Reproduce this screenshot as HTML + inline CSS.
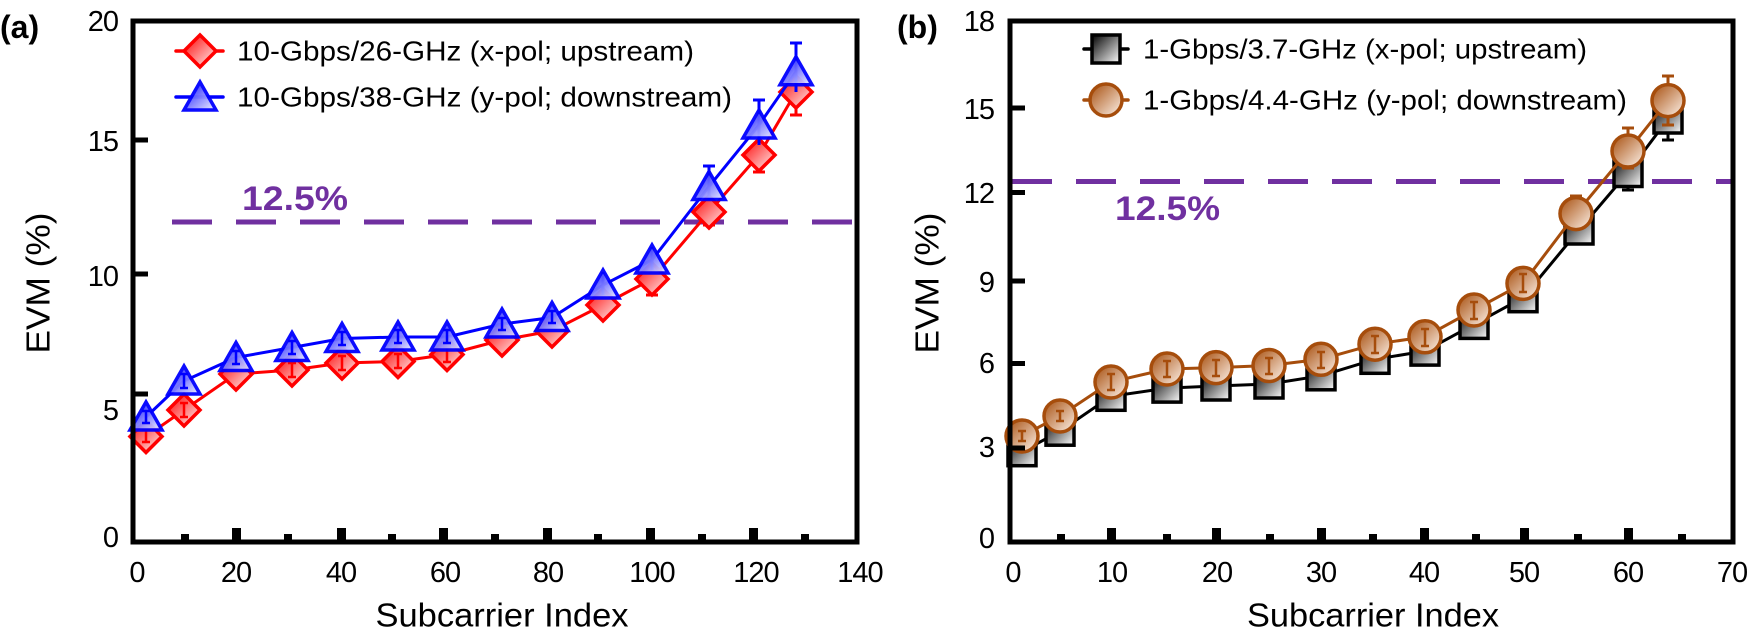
<!DOCTYPE html>
<html><head><meta charset="utf-8"><style>
html,body{margin:0;padding:0;background:#fff;}
svg{display:block;}
text{font-family:"Liberation Sans",Arial,sans-serif;fill:#000;}
.tk{letter-spacing:-1px;}
</style></head><body>
<svg width="1750" height="644" viewBox="0 0 1750 644" xmlns="http://www.w3.org/2000/svg">
<defs>
<linearGradient id="gr" x1="0" y1="0" x2="1" y2="1"><stop offset="0" stop-color="#ff0000"/><stop offset="1" stop-color="#fff4f4"/></linearGradient>
<linearGradient id="gb" x1="0" y1="0" x2="1" y2="1"><stop offset="0" stop-color="#0000ff"/><stop offset="1" stop-color="#f0f0ff"/></linearGradient>
<linearGradient id="gk" x1="0" y1="0" x2="1" y2="1"><stop offset="0" stop-color="#000"/><stop offset="1" stop-color="#fff"/></linearGradient>
<linearGradient id="go" x1="0" y1="0" x2="1" y2="1"><stop offset="0" stop-color="#a64d0c"/><stop offset="1" stop-color="#fff4ec"/></linearGradient>
<g id="dia"><path d="M0,-16 L16,0 L0,16 L-16,0 Z" fill="url(#gr)" stroke="#ff0000" stroke-width="3.5"/></g>
<g id="tri"><path d="M0,-15 L16,13 L-16,13 Z" fill="url(#gb)" stroke="#0000ff" stroke-width="3.5" opacity="0.95"/></g>
<g id="sq"><rect x="-14" y="-14" width="28" height="28" fill="url(#gk)" stroke="#000" stroke-width="3.5"/></g>
<g id="ci"><circle r="16" fill="url(#go)" stroke="#a64d0c" stroke-width="3.5"/></g>
</defs>

<!-- ================= Panel A ================= -->
<text x="0" y="38" font-size="32" font-weight="bold">(a)</text>
<line x1="172" y1="222" x2="857" y2="222" stroke="#7030a0" stroke-width="5" stroke-dasharray="40 24"/>
<text x="242" y="210" font-size="34" font-weight="bold" style="fill:#7030a0" textLength="106" lengthAdjust="spacingAndGlyphs">12.5%</text>

<polyline fill="none" stroke="#ff0000" stroke-width="3" points="146,436.5 184,410 236,374 292,370 342,363 398,361.5 447,354.5 502,340 552,331 603,305 652,279 709,212 759,155 796,92"/>
<g stroke="#ff0000" stroke-width="3">
<line x1="709" y1="200" x2="709" y2="225"/><line x1="703" y1="225" x2="715" y2="225"/>
<line x1="759" y1="140" x2="759" y2="172"/><line x1="753" y1="172" x2="765" y2="172"/>
<line x1="796" y1="80" x2="796" y2="115"/><line x1="790" y1="115" x2="802" y2="115"/>
<line x1="652" y1="270" x2="652" y2="295"/><line x1="646" y1="295" x2="658" y2="295"/>
</g>
<g>
<use href="#dia" x="146" y="436.5"/><use href="#dia" x="184" y="410"/><use href="#dia" x="236" y="374"/><use href="#dia" x="292" y="370"/><use href="#dia" x="342" y="363"/><use href="#dia" x="398" y="361.5"/><use href="#dia" x="447" y="354.5"/><use href="#dia" x="502" y="340"/><use href="#dia" x="552" y="331"/><use href="#dia" x="603" y="305"/><use href="#dia" x="652" y="279"/><use href="#dia" x="709" y="212"/><use href="#dia" x="759" y="155"/><use href="#dia" x="796" y="92"/>
</g>
<g stroke="#ff0000" stroke-width="2.5">
<path d="M142,430h8M146,430v12M142,442h8"/><path d="M180,403h8M184,403v14M180,417h8"/><path d="M338,356h8M342,356v14M338,370h8"/><path d="M394,354h8M398,354v14M394,368h8"/><path d="M443,347h8M447,347v15M443,362h8"/><path d="M288,363h8M292,363v14M288,377h8"/>
</g>

<polyline fill="none" stroke="#0000ff" stroke-width="3" points="146,417 184,381 236,357.5 292,347.5 342,338.5 398,337 447,337 502,324 552,317.5 603,285 652,260 709,186.5 759,125 796,71.7"/>
<g stroke="#0000ff" stroke-width="3">
<line x1="709" y1="166" x2="709" y2="200"/><line x1="703" y1="166" x2="715" y2="166"/>
<line x1="759" y1="100" x2="759" y2="145"/><line x1="753" y1="100" x2="765" y2="100"/>
<line x1="796" y1="43" x2="796" y2="92"/><line x1="790" y1="43" x2="802" y2="43"/>
<line x1="603" y1="272" x2="603" y2="295"/><line x1="652" y1="247" x2="652" y2="270"/>
</g>
<g>
<use href="#tri" x="146" y="417"/><use href="#tri" x="184" y="381"/><use href="#tri" x="236" y="357.5"/><use href="#tri" x="292" y="347.5"/><use href="#tri" x="342" y="338.5"/><use href="#tri" x="398" y="337"/><use href="#tri" x="447" y="337"/><use href="#tri" x="502" y="324"/><use href="#tri" x="552" y="317.5"/><use href="#tri" x="603" y="285"/><use href="#tri" x="652" y="260"/><use href="#tri" x="709" y="186.5"/><use href="#tri" x="759" y="125"/><use href="#tri" x="796" y="71.7"/>
</g>
<g stroke="#0000ff" stroke-width="2.5">
<path d="M142,411h8M146,411v12M142,423h8"/><path d="M180,374h8M184,374v14M180,388h8"/><path d="M232,351h8M236,351v13M232,364h8"/><path d="M288,341h8M292,341v13M288,354h8"/><path d="M338,332h8M342,332v13M338,345h8"/><path d="M394,330h8M398,330v13M394,343h8"/><path d="M443,330h8M447,330v13M443,343h8"/><path d="M498,318h8M502,318v12M498,330h8"/><path d="M548,311h8M552,311v12M548,323h8"/>
</g>

<line x1="176" y1="51" x2="223" y2="51" stroke="#ff0000" stroke-width="3.5" stroke-linecap="round"/>
<use href="#dia" x="200" y="51"/>
<text x="237" y="51" font-size="28" dominant-baseline="central" textLength="457" lengthAdjust="spacingAndGlyphs">10-Gbps/26-GHz (x-pol; upstream)</text>
<line x1="176" y1="97" x2="223" y2="97" stroke="#0000ff" stroke-width="3.5" stroke-linecap="round"/>
<use href="#tri" x="200" y="97"/>
<text x="237" y="97" font-size="28" dominant-baseline="central" textLength="495" lengthAdjust="spacingAndGlyphs">10-Gbps/38-GHz (y-pol; downstream)</text>

<rect x="133" y="21" width="724" height="521" fill="none" stroke="#000" stroke-width="5"/>
<g fill="#000">
<rect x="133" y="137.5" width="15" height="5"/><rect x="133" y="271.5" width="15" height="5"/><rect x="133" y="391.5" width="15" height="5"/>
<rect x="181" y="534" width="8" height="8"/><rect x="232" y="528" width="9" height="14"/><rect x="284" y="534" width="8" height="8"/><rect x="337" y="528" width="9" height="14"/><rect x="388" y="534" width="8" height="8"/><rect x="439" y="528" width="9" height="14"/><rect x="491" y="534" width="8" height="8"/><rect x="543" y="528" width="9" height="14"/><rect x="594" y="534" width="8" height="8"/><rect x="646" y="528" width="9" height="14"/><rect x="698" y="534" width="8" height="8"/><rect x="749" y="528" width="9" height="14"/><rect x="801" y="534" width="8" height="8"/>
</g>
<g class="tk" font-size="29" text-anchor="end" dominant-baseline="central">
<text x="118" y="22">20</text><text x="118" y="142">15</text><text x="118" y="277">10</text><text x="118" y="411">5</text><text x="118" y="538">0</text>
</g>
<g class="tk" font-size="29" text-anchor="middle" dominant-baseline="central">
<text x="137" y="573">0</text><text x="236" y="573">20</text><text x="341" y="573">40</text><text x="445" y="573">60</text><text x="548" y="573">80</text><text x="652" y="573">100</text><text x="756" y="573">120</text><text x="860" y="573">140</text>
</g>
<text x="502" y="615" font-size="33" text-anchor="middle" dominant-baseline="central" textLength="253" lengthAdjust="spacingAndGlyphs">Subcarrier Index</text>
<text transform="translate(38,283) rotate(-90)" font-size="33" text-anchor="middle" dominant-baseline="central" textLength="141" lengthAdjust="spacingAndGlyphs">EVM  (%)</text>

<!-- ================= Panel B ================= -->
<text x="897" y="38" font-size="32" font-weight="bold">(b)</text>
<line x1="1012" y1="181.5" x2="1733" y2="181.5" stroke="#7030a0" stroke-width="5" stroke-dasharray="40 24"/>
<text x="1115" y="220" font-size="34" font-weight="bold" style="fill:#7030a0" textLength="105" lengthAdjust="spacingAndGlyphs">12.5%</text>

<polyline fill="none" stroke="#000" stroke-width="3" points="1022,451.7 1060,431.2 1111,396.3 1167,388.1 1216,386 1269,384 1321,375.8 1375,359.3 1425,351.1 1474,324.4 1523,297.7 1579,230 1628,172.5 1668,119"/>
<g stroke="#000" stroke-width="3">
<path d="M1628,160v30M1622,190h12"/><path d="M1668,110v30M1662,140h12"/><path d="M1579,220v20M1573,240h12"/>
</g>
<g>
<use href="#sq" x="1022" y="451.7"/><use href="#sq" x="1060" y="431.2"/><use href="#sq" x="1111" y="396.3"/><use href="#sq" x="1167" y="388.1"/><use href="#sq" x="1216" y="386"/><use href="#sq" x="1269" y="384"/><use href="#sq" x="1321" y="375.8"/><use href="#sq" x="1375" y="359.3"/><use href="#sq" x="1425" y="351.1"/><use href="#sq" x="1474" y="324.4"/><use href="#sq" x="1523" y="297.7"/><use href="#sq" x="1579" y="230"/><use href="#sq" x="1628" y="172.5"/><use href="#sq" x="1668" y="119"/>
</g>

<polyline fill="none" stroke="#a64d0c" stroke-width="3" points="1022,436 1060,416 1111,382 1167,369 1216,367.6 1269,365.5 1321,359.3 1375,344.2 1425,336.8 1474,310 1523,283.4 1576,213.6 1628,151 1668,100.6"/>
<g stroke="#a64d0c" stroke-width="3">
<path d="M1628,128v40M1622,128h12M1622,168h12"/><path d="M1668,76v49M1662,76h12M1662,125h12"/><path d="M1576,196v34M1570,196h12"/>
</g>
<g>
<use href="#ci" x="1022" y="436"/><use href="#ci" x="1060" y="416"/><use href="#ci" x="1111" y="382"/><use href="#ci" x="1167" y="369"/><use href="#ci" x="1216" y="367.6"/><use href="#ci" x="1269" y="365.5"/><use href="#ci" x="1321" y="359.3"/><use href="#ci" x="1375" y="344.2"/><use href="#ci" x="1425" y="336.8"/><use href="#ci" x="1474" y="310"/><use href="#ci" x="1523" y="283.4"/><use href="#ci" x="1576" y="213.6"/><use href="#ci" x="1628" y="151"/><use href="#ci" x="1668" y="100.6"/>
</g>
<g stroke="#a64d0c" stroke-width="2.5">
<path d="M1018,431h8M1022,431v10M1018,441h8"/><path d="M1056,411h8M1060,411v10M1056,421h8"/><path d="M1107,374h8M1111,374v16M1107,390h8"/><path d="M1163,361h8M1167,361v16M1163,377h8"/><path d="M1212,360h8M1216,360v16M1212,376h8"/><path d="M1265,358h8M1269,358v16M1265,374h8"/><path d="M1317,352h8M1321,352v16M1317,368h8"/><path d="M1371,336h8M1375,336v17M1371,353h8"/><path d="M1421,329h8M1425,329v17M1421,346h8"/><path d="M1470,302h8M1474,302v17M1470,319h8"/><path d="M1519,274h8M1523,274v18M1519,292h8"/>
</g>

<line x1="1084" y1="49" x2="1128" y2="49" stroke="#000" stroke-width="3.5" stroke-linecap="round"/>
<use href="#sq" x="1106" y="49"/>
<text x="1143" y="49" font-size="28" dominant-baseline="central" textLength="444" lengthAdjust="spacingAndGlyphs">1-Gbps/3.7-GHz (x-pol; upstream)</text>
<line x1="1084" y1="100" x2="1128" y2="100" stroke="#a64d0c" stroke-width="3.5" stroke-linecap="round"/>
<use href="#ci" x="1106" y="100"/>
<text x="1143" y="100" font-size="28" dominant-baseline="central" textLength="484" lengthAdjust="spacingAndGlyphs">1-Gbps/4.4-GHz (y-pol; downstream)</text>

<rect x="1010" y="21" width="723" height="521" fill="none" stroke="#000" stroke-width="5"/>
<g fill="#000">
<rect x="1010" y="105.5" width="15" height="5"/><rect x="1010" y="190" width="15" height="5"/><rect x="1010" y="278.5" width="15" height="5"/><rect x="1010" y="361" width="15" height="5"/><rect x="1010" y="445.5" width="15" height="5"/>
<rect x="1057" y="534" width="8" height="8"/><rect x="1107" y="528" width="9" height="14"/><rect x="1163" y="534" width="8" height="8"/><rect x="1212" y="528" width="9" height="14"/><rect x="1266" y="534" width="8" height="8"/><rect x="1317" y="528" width="9" height="14"/><rect x="1369" y="534" width="8" height="8"/><rect x="1420" y="528" width="9" height="14"/><rect x="1472" y="534" width="8" height="8"/><rect x="1520" y="528" width="9" height="14"/><rect x="1574" y="534" width="8" height="8"/><rect x="1624" y="528" width="9" height="14"/><rect x="1678" y="534" width="8" height="8"/>
</g>
<g class="tk" font-size="29" text-anchor="end" dominant-baseline="central">
<text x="994" y="22">18</text><text x="994" y="110">15</text><text x="994" y="194">12</text><text x="994" y="283">9</text><text x="994" y="364">6</text><text x="994" y="448">3</text><text x="994" y="539">0</text>
</g>
<g class="tk" font-size="29" text-anchor="middle" dominant-baseline="central">
<text x="1013" y="573">0</text><text x="1112" y="573">10</text><text x="1217" y="573">20</text><text x="1321" y="573">30</text><text x="1424" y="573">40</text><text x="1524" y="573">50</text><text x="1628" y="573">60</text><text x="1732" y="573">70</text>
</g>
<text x="1373" y="615" font-size="33" text-anchor="middle" dominant-baseline="central" textLength="252" lengthAdjust="spacingAndGlyphs">Subcarrier Index</text>
<text transform="translate(927,283) rotate(-90)" font-size="33" text-anchor="middle" dominant-baseline="central" textLength="141" lengthAdjust="spacingAndGlyphs">EVM  (%)</text>
</svg>
</body></html>
